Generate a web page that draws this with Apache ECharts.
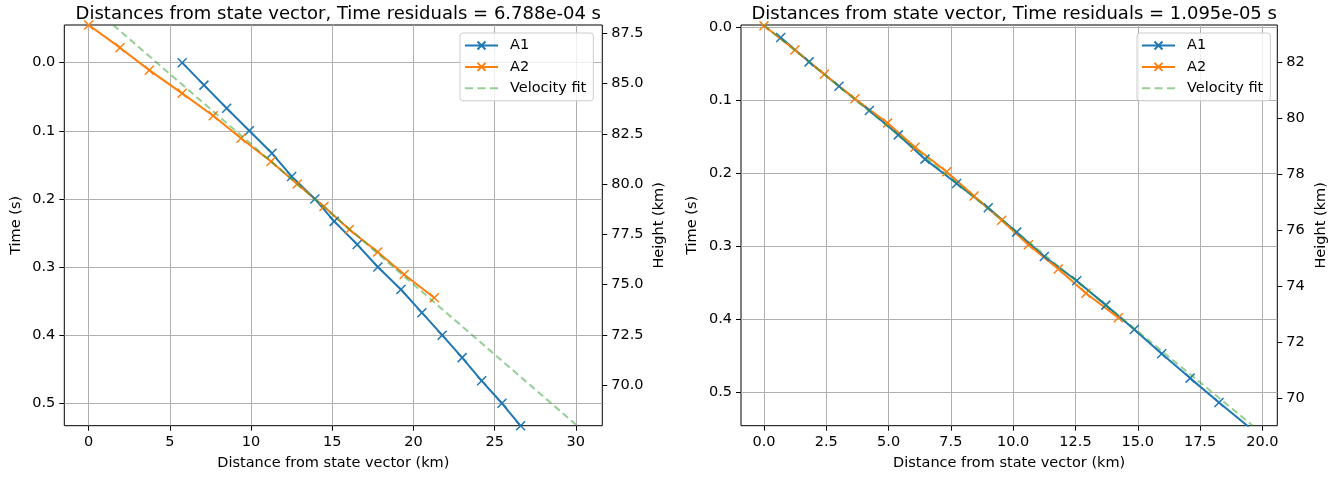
<!DOCTYPE html>
<html><head><meta charset="utf-8">
<script src="https://cdn.jsdelivr.net/npm/echarts@6/dist/echarts.min.js"></script>
<style>html,body{margin:0;padding:0;background:#fff}#c{width:1341px;height:478px}</style>
</head><body><div id="c"></div>
<script>
// ---- Left panel data ----
const leftTimeA1 = [0.000, 0.033, 0.067, 0.100, 0.133, 0.167, 0.200, 0.233, 0.267, 0.300, 0.333, 0.367, 0.400, 0.433, 0.467, 0.500, 0.533];
const leftDistA1 = [5.76, 7.10, 8.50, 9.89, 11.29, 12.50, 13.93, 15.12, 16.54, 17.81, 19.23, 20.52, 21.77, 23.00, 24.20, 25.45, 26.60];
const leftTimeA2 = [-0.0553, -0.022, 0.011, 0.045, 0.078, 0.111, 0.145, 0.178, 0.211, 0.245, 0.278, 0.311, 0.345];
const leftDistA2 = [0.00, 1.93, 3.73, 5.76, 7.67, 9.38, 11.23, 12.84, 14.49, 16.05, 17.80, 19.43, 21.28];
const leftTimeFit = [-0.0553, 0.5333];
const leftDistFit = [1.51, 30.10];
// ---- Right panel data ----
const rightTimeA1 = [0.0140, 0.0473, 0.0806, 0.1140, 0.1473, 0.1806, 0.2140, 0.2473, 0.2806, 0.3140, 0.3473, 0.3806, 0.4140, 0.4473, 0.4806, 0.5140, 0.5473];
const rightDistA1 = [0.67, 1.81, 3.01, 4.23, 5.39, 6.46, 7.73, 9.00, 10.14, 11.25, 12.55, 13.72, 14.86, 15.96, 17.10, 18.26, 19.45];
const rightTimeA2 = [-0.0022, 0.0311, 0.0644, 0.0978, 0.1311, 0.1644, 0.1978, 0.2311, 0.2644, 0.2978, 0.3311, 0.3644, 0.3978];
const rightDistA2 = [0.00, 1.24, 2.42, 3.65, 4.96, 6.06, 7.33, 8.43, 9.54, 10.61, 11.81, 12.92, 14.22];
const rightTimeFit = [-0.0032, 0.5458];
const rightDistFit = [0.00, 19.62];
// ---- Ticks / labels ----
const leftXTicks = [0, 5, 10, 15, 20, 25, 30];
const leftTimeTicks = [0.0, 0.1, 0.2, 0.3, 0.4, 0.5];
const leftHeightTicks = [70.0, 72.5, 75.0, 77.5, 80.0, 82.5, 85.0, 87.5];
const rightXTicks = [0.0, 2.5, 5.0, 7.5, 10.0, 12.5, 15.0, 17.5, 20.0];
const rightTimeTicks = [0.0, 0.1, 0.2, 0.3, 0.4, 0.5];
const rightHeightTicks = [70, 72, 74, 76, 78, 80, 82];
const titles = ['Distances from state vector, Time residuals = 6.788e-04 s', 'Distances from state vector, Time residuals = 1.095e-05 s'];
const seriesNames = ['A1', 'A2', 'Velocity fit'];
const xName = 'Distance from state vector (km)';
const timeName = 'Time (s)';
const heightName = 'Height (km)';

const FONT = 'DejaVu Sans';
const FS = 14.5;
const BLUE = '#1f77b4', ORANGE = '#ff7f0e', GREEN = 'rgba(44,160,44,0.5)';
const XSYM = 'path://M0,0L10,10M10,0L0,10';
const DASH_ICON = 'path://M0,0H8V2H0Z M12.5,0H20.5V2H12.5Z M25,0H33V2H25Z';

function pairs(xs, ys) { return xs.map((x, i) => [x, ys[i]]); }

function valAxis(o) {
  return Object.assign({
    type: 'value',
    axisLine: { show: false, onZero: false },
    axisTick: { show: true, inside: false, length: 5, lineStyle: { color: '#000', width: 1 }, customValues: o.ticks },
    axisLabel: { color: '#000', fontFamily: FONT, fontSize: FS, margin: 9, customValues: o.ticks, formatter: o.fmt },
    splitLine: { show: o.grid !== false, lineStyle: { color: '#b0b0b0', width: 1 } },
    nameLocation: 'middle',
    nameTextStyle: { color: '#000', fontFamily: FONT, fontSize: FS },
    scale: true
  }, o.extra);
}

function lineSeries(name, xi, yi, data, color, dashed) {
  return {
    type: 'line', name: name, xAxisIndex: xi, yAxisIndex: yi, data: data,
    symbol: dashed ? 'none' : XSYM, symbolSize: 9, showSymbol: !dashed,
    lineStyle: { color: color, width: 2, type: dashed ? [7, 4] : 'solid' },
    itemStyle: { color: color, borderColor: color, borderWidth: 1.5 },
    emphasis: { disabled: true }, animation: false, clip: true, z: dashed ? 3 : 2
  };
}

function legend(left) {
  return {
    data: [seriesNames[0], seriesNames[1], { name: seriesNames[2], icon: DASH_ICON, itemStyle: { color: GREEN, borderWidth: 0 } }],
    orient: 'vertical', left: left, top: 33,
    itemWidth: 33, itemHeight: 10, itemGap: 6.4,
    padding: [5, 7, 5, 4],
    backgroundColor: 'rgba(255,255,255,0.8)', borderColor: '#cccccc', borderWidth: 1, borderRadius: 3,
    textStyle: { color: '#000', fontFamily: FONT, fontSize: FS, padding: [0, 0, 0, 7] },
    selectedMode: false
  };
}

const titleStyle = { color: '#000', fontFamily: FONT, fontSize: 18, fontWeight: 'normal' };
const option = {
  animation: false,
  backgroundColor: '#fff',
  title: [
    { text: titles[0], left: 333.3, textAlign: 'center', top: 0, textStyle: titleStyle },
    { text: titles[1], left: 1009.2, textAlign: 'center', top: 0, textStyle: titleStyle }
  ],
  legend: [legend(460), legend(1137)],
  grid: [
    { left: 64.3, top: 25, width: 538, height: 400.7, show: true, borderColor: '#000', borderWidth: 1, backgroundColor: 'transparent', outerBoundsMode: 'none' },
    { left: 741, top: 25, width: 536.3, height: 400.7, show: true, borderColor: '#000', borderWidth: 1, backgroundColor: 'transparent', outerBoundsMode: 'none' }
  ],
  xAxis: [
    valAxis({ ticks: leftXTicks, fmt: v => String(Math.round(v)), extra: { gridIndex: 0, position: 'bottom', min: -1.50, max: 31.63, name: xName, nameGap: 30 } }),
    valAxis({ ticks: rightXTicks, fmt: v => v.toFixed(1), extra: { gridIndex: 1, position: 'bottom', min: -0.923, max: 20.6, name: xName, nameGap: 30 } })
  ],
  yAxis: [
    valAxis({ ticks: leftTimeTicks, fmt: v => v.toFixed(1), extra: { gridIndex: 0, inverse: true, min: -0.0553, max: 0.5329, name: timeName, nameGap: 41, position: 'left' } }),
    valAxis({ ticks: leftHeightTicks, grid: false, fmt: v => v.toFixed(1), extra: { gridIndex: 0, min: 67.98, max: 87.91, name: heightName, nameGap: 49, position: 'right' } }),
    valAxis({ ticks: rightTimeTicks, fmt: v => v.toFixed(1), extra: { gridIndex: 1, inverse: true, min: -0.0032, max: 0.5458, name: timeName, nameGap: 41, position: 'left' } }),
    valAxis({ ticks: rightHeightTicks, grid: false, fmt: v => v.toFixed(0), extra: { gridIndex: 1, min: 69.0, max: 83.35, name: heightName, nameGap: 36, position: 'right' } })
  ],
  series: [
    lineSeries('A1', 0, 0, pairs(leftDistA1, leftTimeA1), BLUE, false),
    lineSeries('A2', 0, 0, pairs(leftDistA2, leftTimeA2), ORANGE, false),
    lineSeries('Velocity fit', 0, 0, pairs(leftDistFit, leftTimeFit), GREEN, true),
    lineSeries('A1', 1, 2, pairs(rightDistA1, rightTimeA1), BLUE, false),
    lineSeries('A2', 1, 2, pairs(rightDistA2, rightTimeA2), ORANGE, false),
    lineSeries('Velocity fit', 1, 2, pairs(rightDistFit, rightTimeFit), GREEN, true)
  ]
};
const chart = echarts.init(document.getElementById('c'), null, { renderer: 'canvas' });
chart.setOption(option);
</script>
</body></html>
